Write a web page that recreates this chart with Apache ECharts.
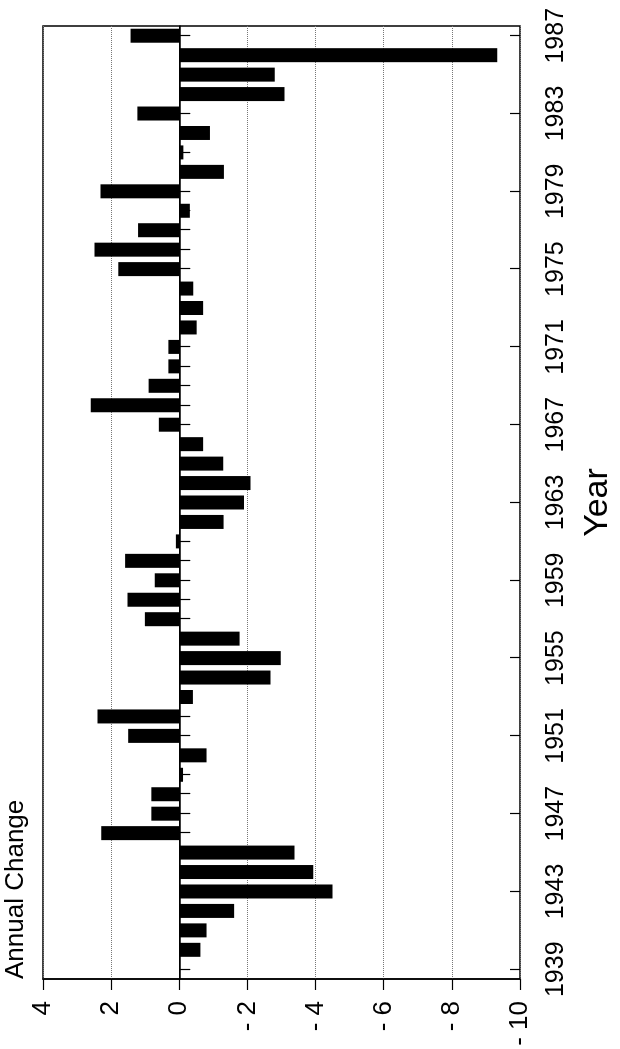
<!DOCTYPE html>
<html>
<head>
<meta charset="utf-8">
<script src="https://cdn.jsdelivr.net/npm/echarts@6/dist/echarts.min.js"></script>
<style>
    html, body { margin: 0; padding: 0; background: #fff; overflow: hidden; }
    /* chart is drawn landscape and turned a quarter turn to the left */
    #chart {
        position: absolute; left: 0; top: 0;
        width: 1049px; height: 620px;
        transform-origin: 0 0;
        transform: translate(0, 1049px) rotate(-90deg);
    }
</style>
</head>
<body>
<div id="chart"></div>
<script>
// years on the category axis
var years = [];
for (var y = 1939; y <= 1987; y++) years.push(String(y));

// annual change, 1939 has no value
var change = [
    null, -0.62, -0.80, -1.61, -4.50, -3.93, -3.38, 2.29, 0.82, 0.82,
    -0.11, -0.80, 1.50, 2.40, -0.40, -2.68, -2.98, -1.77, 1.01, 1.52,
    0.72, 1.59, 0.10, -1.30, -1.90, -2.09, -1.29, -0.70, 0.60, 2.60,
    0.90, 0.32, 0.32, -0.51, -0.70, -0.41, 1.79, 2.49, 1.21, -0.31,
    2.31, -1.31, -0.12, -0.90, 1.23, -3.09, -2.80, -9.33, 1.43
];

var valueMin = -10;
var valueMax = 4;
var valueStep = 2;

var font = '"Liberation Sans", Helvetica, Arial, sans-serif';

var chart = echarts.init(document.getElementById('chart'));

var option = {
    animation: false,
    backgroundColor: '#fff',
    grid: {
        left: 70,
        right: 26,
        top: 43,
        bottom: 97,
        show: true,
        borderColor: '#000',
        borderWidth: 1.5
    },
    xAxis: [{
        type: 'category',
        data: years,
        boundaryGap: true,
        name: 'Year',
        nameLocation: 'middle',
        nameGap: 61,
        nameTextStyle: { fontFamily: font, fontSize: 34, color: '#000' },
        axisLine: { show: true, lineStyle: { color: '#000', width: 1.5 } },
        axisTick: {
            show: true,
            alignWithLabel: true,
            interval: 0,
            length: 11,
            lineStyle: { color: '#000', width: 1.2 }
        },
        axisLabel: {
            interval: 3,
            margin: 24,
            fontFamily: font,
            fontSize: 25,
            color: '#000'
        },
        splitLine: { show: false }
    }, {
        // inner half of the long ticks every four years
        type: 'category',
        data: years,
        boundaryGap: true,
        position: 'bottom',
        axisLine: { show: false },
        axisTick: {
            show: true,
            inside: true,
            alignWithLabel: true,
            interval: 3,
            length: 10,
            lineStyle: { color: '#000', width: 1.2 }
        },
        axisLabel: { show: false },
        splitLine: { show: false }
    }],
    yAxis: {
        type: 'value',
        min: valueMin,
        max: valueMax,
        interval: valueStep,
        name: 'Annual Change',
        nameLocation: 'end',
        nameGap: 14,
        nameTextStyle: {
            fontFamily: font,
            fontSize: 26,
            color: '#000',
            align: 'left'
        },
        axisLine: { show: true, lineStyle: { color: '#000', width: 1.5 } },
        axisTick: { show: true, length: 11, lineStyle: { color: '#000', width: 1.2 } },
        axisLabel: {
            margin: 22,
            fontFamily: font,
            fontSize: 26,
            color: '#000',
            formatter: function (v) {
                return v < 0 ? '- ' + (-v) : String(v);
            }
        },
        splitLine: {
            show: true,
            lineStyle: { color: '#777', type: 'dotted', width: 1 }
        }
    },
    series: [{
        type: 'bar',
        data: change,
        barWidth: 14,
        itemStyle: { color: '#000' },
        markLine: {
            silent: true,
            symbol: 'none',
            label: { show: false },
            lineStyle: { color: '#000', type: 'solid', width: 1 },
            data: [{ yAxis: 0 }]
        }
    }]
};

chart.setOption(option);
</script>
</body>
</html>
